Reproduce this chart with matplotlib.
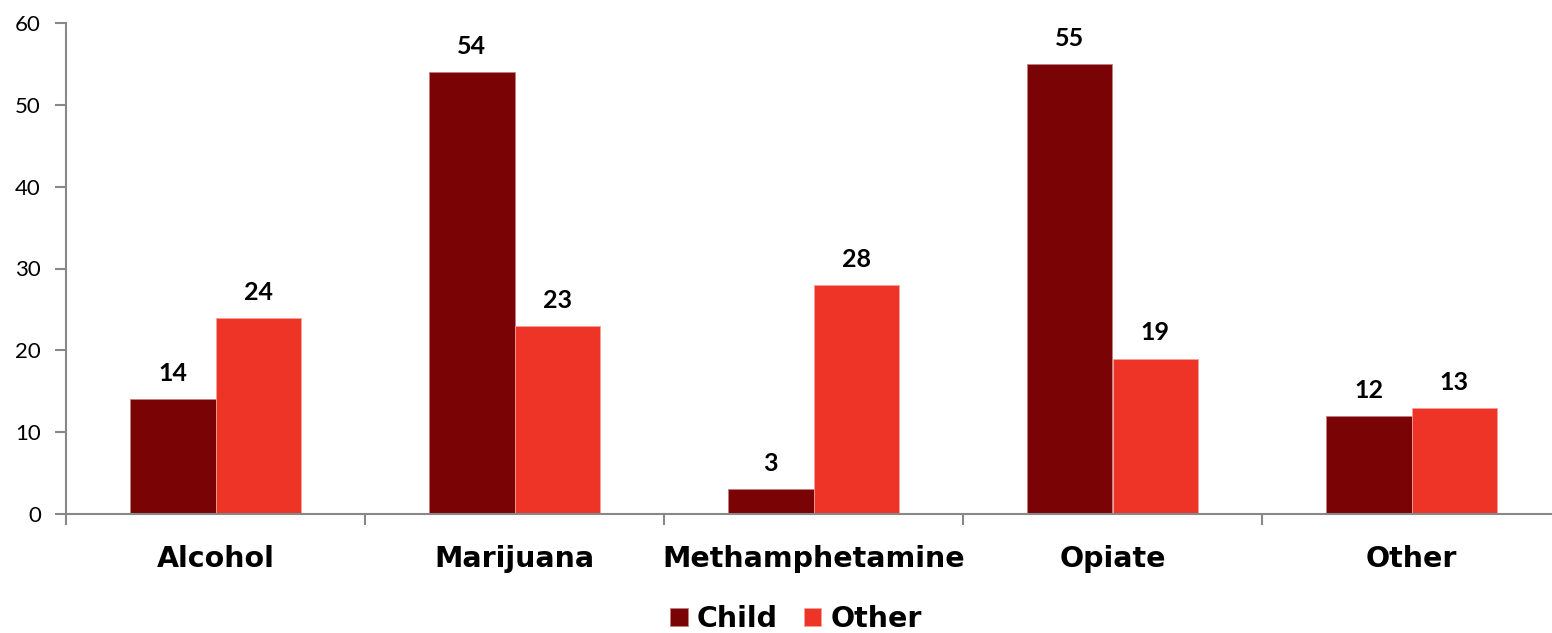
import matplotlib
matplotlib.use("Agg")
import matplotlib.pyplot as plt
import numpy as np

categories = ["Alcohol", "Marijuana", "Methamphetamine", "Opiate", "Other"]
child = [14, 54, 3, 55, 12]
other = [24, 23, 28, 19, 13]
series_names = ["Child", "Other"]
colors = ["#7A0306", "#EE3327"]

plt.rcParams['font.family'] = ['Lato', 'DejaVu Sans']
bold_font = ['DejaVu Sans']

W, H = 1552, 633
fig = plt.figure(figsize=(W / 100, H / 100), dpi=100)
# axes run a little past the right edge of the canvas
ax = fig.add_axes([66 / W, (H - 514) / H, (1561 - 66) / W, (514 - 23) / H])

x = np.arange(len(categories))
bw = 0.287
b1 = ax.bar(x - bw / 2, child, bw, color=colors[0], edgecolor="#c08080", linewidth=0.6, label=series_names[0])
b2 = ax.bar(x + bw / 2, other, bw, color=colors[1], edgecolor="#f6a09a", linewidth=0.6, label=series_names[1])

for bars, vals in ((b1, child), (b2, other)):
    for r, v in zip(bars, vals):
        ax.annotate(str(v), (r.get_x() + r.get_width() / 2, v), xytext=(0, 13),
                    textcoords="offset points", ha="center", va="baseline",
                    fontsize=18, fontweight="bold")

ax.set_ylim(0, 60)
ax.set_yticks(range(0, 61, 10))
ax.set_xlim(-0.5, 4.5)

# category separators as x ticks
ax.set_xticks(np.arange(-0.5, 5, 1.0))
ax.set_xticklabels([])
for i, name in enumerate(categories):
    ax.annotate(name, (i, 0), xycoords=("data", "axes fraction"), xytext=(0, -38),
                textcoords="offset points", ha="center", va="baseline",
                fontsize=20.5, fontweight="bold", family=bold_font)
ax.tick_params(axis="x", length=8, width=1.5, color="#888888", direction="out")
ax.tick_params(axis="y", length=8, width=1.5, color="#888888", labelsize=16, pad=10)

for s in ("top", "right"):
    ax.spines[s].set_visible(False)
for s in ("left", "bottom"):
    ax.spines[s].set_color("#888888")
    ax.spines[s].set_linewidth(1.5)

fig.legend(handles=[b1, b2], loc="center", bbox_to_anchor=(796 / W, 1 - 619 / H), ncol=2,
           frameon=False, prop={"size": 20.5, "weight": "bold", "family": bold_font},
           handlelength=0.62, handleheight=0.62, handletextpad=0.33, columnspacing=0.9,
           borderpad=0, borderaxespad=0)

fig.savefig("out.png", dpi=100)
